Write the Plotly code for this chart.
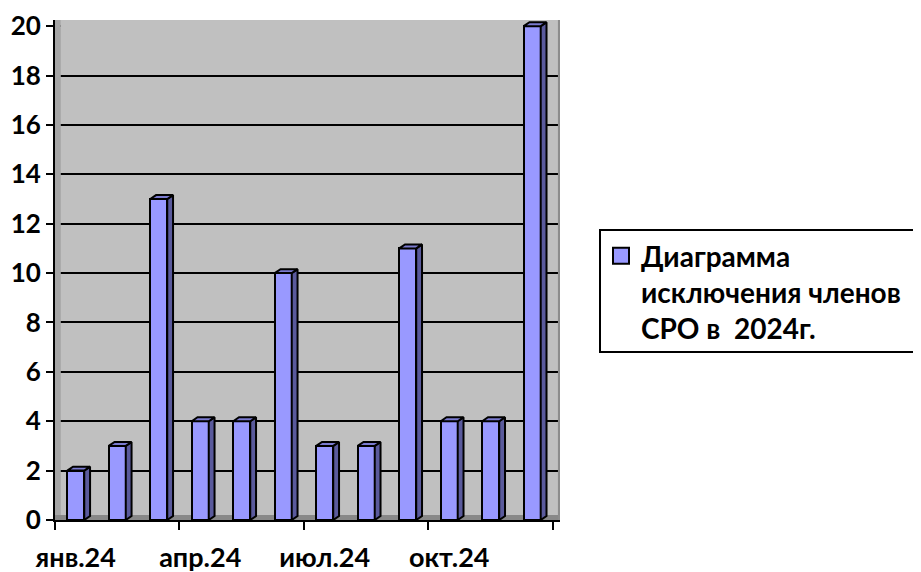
import plotly.graph_objects as go

# ---- data ----
months = ["янв.24", "фев.24", "мар.24", "апр.24", "май.24", "июн.24",
          "июл.24", "авг.24", "сен.24", "окт.24", "ноя.24", "дек.24"]
values = [2, 3, 13, 4, 4, 10, 3, 3, 11, 4, 4, 20]
label_every = 3
y_ticks = [0, 2, 4, 6, 8, 10, 12, 14, 16, 18, 20]
series_name = "Диаграмма<br>исключения членов<br>СРО в  2024г."

# ---- geometry / style ----
n = len(months)
xs = [i + 0.5 for i in range(n)]
bar_w = 0.41
dx, dy = 0.14, 0.16
x_max = 12.17
y_max = 20.25
FRONT = "#9999FF"
SIDE = "#5A5A9C"
TOP = "#7B7BD0"
FONT = dict(family="Lato", color="black", weight="bold")

side_x, side_y, top_x, top_y = [], [], [], []
for x, v in zip(xs, values):
    xl, xr = x - bar_w / 2, x + bar_w / 2
    side_x += [xr, xr + dx, xr + dx, xr, xr, None]
    side_y += [0, dy, v + dy, v, 0, None]
    top_x += [xl, xl + dx, xr + dx, xr, xl, None]
    top_y += [v, v + dy, v + dy, v, v, None]

fig = go.Figure()
fig.add_trace(go.Bar(x=xs, y=values, width=bar_w, marker=dict(color=FRONT, line=dict(color="black", width=2)),
                     showlegend=False, hoverinfo="skip"))
fig.add_trace(go.Scatter(x=side_x, y=side_y, mode="lines", fill="toself", fillcolor=SIDE,
                         line=dict(color="black", width=2), showlegend=False, hoverinfo="skip"))
fig.add_trace(go.Scatter(x=top_x, y=top_y, mode="lines", fill="toself", fillcolor=TOP,
                         line=dict(color="black", width=2), showlegend=False, hoverinfo="skip"))
# legend entry
fig.add_trace(go.Scatter(x=[None], y=[None], mode="markers", name=series_name,
                         marker=dict(symbol="square", size=16, color=FRONT, line=dict(color="black", width=2))))

# figure coordinates (page body has an 8px margin)
W, H = 913, 564
PL, PR, PT, PB = 47, 552, 12, 512
PW, PH = PR - PL, PB - PT


def px(xf):
    return (xf - PL) / PW


def py(yf):
    return (PB - yf) / PH


fig.update_layout(
    width=W, height=H,
    margin=dict(l=PL, r=W - PR, t=PT, b=H - PB),
    paper_bgcolor="white", plot_bgcolor="#C0C0C0",
    bargap=0,
    xaxis=dict(range=[0, x_max], tickvals=xs[::label_every], ticktext=months[::label_every],
               ticks="", showgrid=False, zeroline=False, showline=True, linecolor="black", linewidth=2,
               tickfont=dict(size=27, **FONT), ticklabelstandoff=13, ticklabeloverflow="allow",
               automargin=False,
               minor=dict(tick0=0, dtick=3, ticks="outside", ticklen=8, tickwidth=2, tickcolor="black", showgrid=False)),
    yaxis=dict(range=[0, y_max], tickvals=y_ticks, ticks="outside", ticklen=7, tickwidth=2, tickcolor="black",
               showline=True, linecolor="black", linewidth=2, showgrid=True, gridcolor="black", gridwidth=2,
               zeroline=False, tickfont=dict(size=26, **FONT), ticklabeloverflow="allow", automargin=False),
    legend=dict(x=px(593), y=py(223), xanchor="left", yanchor="top",
                bgcolor="rgba(0,0,0,0)", borderwidth=0, valign="top",
                font=dict(size=28, **FONT), itemsizing="trace"),
    shapes=[
        # left wall
        dict(type="rect", xref="x", yref="y", x0=0, x1=0.14, y0=0, y1=y_max, fillcolor="#A6A6A6",
             line=dict(width=0), layer="between"),
        # floor
        dict(type="rect", xref="x", yref="y", x0=0, x1=x_max, y0=0, y1=0.2, fillcolor="#888888",
             line=dict(width=0), layer="between"),
        # cover top gridline
        dict(type="rect", xref="x", yref="y", x0=0.14, x1=x_max, y0=19.93, y1=y_max, fillcolor="#C0C0C0",
             line=dict(width=0), layer="between"),
        # right wall edge
        dict(type="rect", xref="x", yref="y", x0=x_max - 0.05, x1=x_max, y0=0, y1=y_max, fillcolor="#8C8C8C",
             line=dict(width=0), layer="between"),
        # legend frame
        dict(type="rect", xref="paper", yref="paper", x0=px(592), x1=px(W + 40),
             y0=py(344), y1=py(222), line=dict(color="black", width=2), fillcolor="rgba(0,0,0,0)"),
    ],
)

fig.write_html("out.html")
